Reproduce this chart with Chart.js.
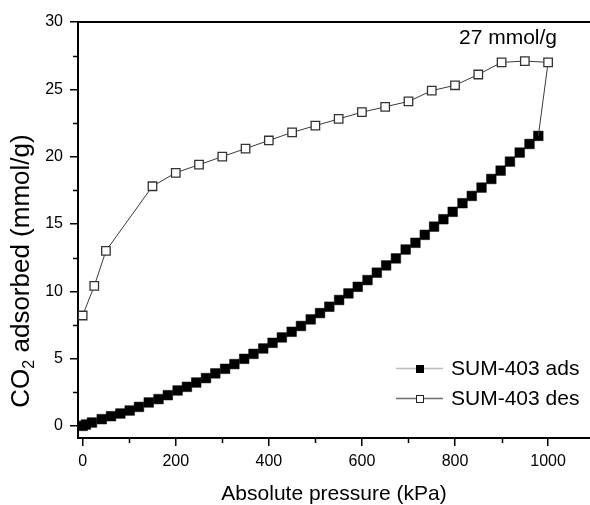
<!DOCTYPE html>
<html>
<head>
<meta charset="utf-8">
<script src="https://cdn.jsdelivr.net/npm/chart.js@4.4.1/dist/chart.umd.min.js"></script>
<style>
  html, body { margin: 0; padding: 0; background: #fff; }
  #wrap { width: 590px; height: 505px; position: relative; }
</style>
</head>
<body>
<div id="wrap"><canvas id="isotherm"></canvas></div>
<script>
// CO2 isotherm, SUM-403 adsorption / desorption
const adsPressure = [0, 7, 20, 41, 61, 81, 101, 121, 142, 163,
    183, 204, 224, 244, 265, 285, 306, 326, 347, 367,
    388, 408, 428, 449, 469, 490, 510, 530, 551, 571,
    591, 612, 632, 652, 673, 694, 715, 735, 755, 775,
    795, 816, 836, 857, 878, 898, 918, 939, 960, 979];
const adsUptake = [0.0, 0.1, 0.25, 0.5, 0.72, 0.92, 1.14, 1.41, 1.74, 1.99,
    2.28, 2.63, 2.9, 3.22, 3.55, 3.9, 4.24, 4.59, 4.98, 5.35,
    5.75, 6.17, 6.57, 6.99, 7.42, 7.91, 8.38, 8.85, 9.35, 9.84,
    10.33, 10.83, 11.38, 11.92, 12.44, 13.1, 13.6, 14.19, 14.8, 15.35,
    15.9, 16.54, 17.08, 17.7, 18.34, 18.96, 19.63, 20.3, 20.94, 21.54];

const desPressure = [1000, 950, 900, 850, 800, 750, 700, 650, 600, 550,
    500, 450, 400, 350, 300, 250, 200, 150, 50, 25, 0];
const desUptake = [27.0, 27.1, 27.0, 26.1, 25.3, 24.9, 24.1, 23.7, 23.3, 22.8,
    22.3, 21.8, 21.2, 20.6, 20.0, 19.4, 18.8, 17.8, 13.0, 10.4, 8.2];

const seriesNames = ['SUM-403 ads', 'SUM-403 des'];
const xMajorTicks = [0, 200, 400, 600, 800, 1000];
const xMinorTicks = [100, 300, 500, 700, 900];
const yMajorTicks = [0, 5, 10, 15, 20, 25, 30];
const yMinorTicks = [2.5, 7.5, 12.5, 17.5, 22.5, 27.5];
const peakNote = '27 mmol/g';

const FONT = "'Liberation Sans', Arial, sans-serif";

const adsPoints = adsPressure.map((p, i) => ({ x: p, y: adsUptake[i] }));
// desorption branch starts where adsorption ends (connecting segment)
const desPoints = [adsPoints[adsPoints.length - 1]]
    .concat(desPressure.map((p, i) => ({ x: p, y: desUptake[i] })));

const extras = {
    id: 'extras',
    afterDraw(chart) {
        const { ctx, chartArea: a, scales: { x, y } } = chart;
        ctx.save();
        // top frame line
        ctx.strokeStyle = '#000';
        ctx.lineWidth = 2;
        ctx.beginPath();
        ctx.moveTo(a.left - 1, a.top);
        ctx.lineTo(chart.width, a.top);
        ctx.stroke();

        // minor ticks
        ctx.lineWidth = 1.5;
        ctx.beginPath();
        xMinorTicks.forEach(v => {
            const px = Math.round(x.getPixelForValue(v)) + 0.5;
            ctx.moveTo(px, a.bottom);
            ctx.lineTo(px, a.bottom + 5);
        });
        yMinorTicks.forEach(v => {
            const py = Math.round(y.getPixelForValue(v)) + 0.5;
            ctx.moveTo(a.left, py);
            ctx.lineTo(a.left - 5, py);
        });
        ctx.stroke();

        // y axis title with subscript
        ctx.fillStyle = '#000';
        ctx.translate(22, 271);
        ctx.rotate(-Math.PI / 2);
        ctx.textBaseline = 'middle';
        const big = '26px ' + FONT, small = '16px ' + FONT;
        ctx.font = big;
        const w1 = ctx.measureText('CO').width;
        const w3 = ctx.measureText(' adsorbed (mmol/g)').width;
        ctx.font = small;
        const w2 = ctx.measureText('2').width;
        let cx = -(w1 + w2 + w3) / 2;
        ctx.font = big;
        ctx.textAlign = 'left';
        ctx.fillText('CO', cx, 0);
        cx += w1;
        ctx.font = small;
        ctx.fillText('2', cx, 8);
        cx += w2;
        ctx.font = big;
        ctx.fillText(' adsorbed (mmol/g)', cx, 0);
        ctx.setTransform(1, 0, 0, 1, 0, 0);

        // annotation
        ctx.font = '21px ' + FONT;
        ctx.textAlign = 'left';
        ctx.textBaseline = 'middle';
        ctx.fillText(peakNote, 459, 38);

        // legend
        const rows = [
            { label: seriesNames[0], line: '#bdbdbd', fill: '#000', stroke: '#000', y: 368 },
            { label: seriesNames[1], line: '#6e6e6e', fill: '#fff', stroke: '#222', y: 398 }
        ];
        rows.forEach(r => {
            ctx.strokeStyle = r.line;
            ctx.lineWidth = 1.5;
            ctx.beginPath();
            ctx.moveTo(396, r.y + 0.5);
            ctx.lineTo(443, r.y + 0.5);
            ctx.stroke();
            ctx.fillStyle = r.fill;
            ctx.strokeStyle = r.stroke;
            ctx.lineWidth = 1;
            ctx.fillRect(416, r.y - 3, 7, 7);
            ctx.strokeRect(416.5, r.y - 2.5, 7, 7);
            ctx.fillStyle = '#000';
            ctx.font = '21px ' + FONT;
            ctx.fillText(r.label, 451, r.y + 1);
        });
        ctx.restore();
    }
};

new Chart(document.getElementById('isotherm'), {
    type: 'scatter',
    data: {
        datasets: [{
            label: seriesNames[1],
            data: desPoints,
            showLine: true,
            borderColor: '#3a3a3a',
            borderWidth: 1,
            pointStyle: 'rect',
            pointRadius: ctx => ctx.dataIndex === 0 ? 0 : 6,
            pointBackgroundColor: '#fff',
            pointBorderColor: '#333',
            pointBorderWidth: 1.3
        }, {
            label: seriesNames[0],
            data: adsPoints,
            showLine: true,
            borderColor: '#bdbdbd',
            borderWidth: 1,
            pointStyle: 'rect',
            pointRadius: 6.8,
            pointBackgroundColor: '#000',
            pointBorderColor: '#000',
            pointBorderWidth: 0.5
        }]
    },
    options: {
        responsive: true,
        maintainAspectRatio: false,
        animation: false,
        layout: { autoPadding: false, padding: { top: 22, right: 0, left: 0, bottom: 0 } },
        plugins: { legend: { display: false }, tooltip: { enabled: false } },
        scales: {
            x: {
                type: 'linear',
                min: -10,
                max: 1090,
                afterBuildTicks: s => { s.ticks = xMajorTicks.map(v => ({ value: v })); },
                afterFit: s => { s.height = 67; s.paddingRight = 0; },
                border: { color: '#000', width: 2 },
                grid: { drawOnChartArea: false, drawTicks: true, tickLength: 8, color: '#000', lineWidth: 1.5 },
                ticks: { color: '#000', padding: 6, maxRotation: 0, callback: v => String(v), font: { family: FONT, size: 16 } },
                title: {
                    display: true,
                    text: 'Absolute pressure (kPa)',
                    color: '#000',
                    padding: { top: 0, bottom: -2 },
                    font: { family: FONT, size: 21 }
                }
            },
            y: {
                type: 'linear',
                min: -0.9,
                max: 30,
                afterBuildTicks: s => { s.ticks = yMajorTicks.map(v => ({ value: v })); },
                afterFit: s => { s.width = 78; },
                border: { color: '#000', width: 2 },
                grid: { drawOnChartArea: false, drawTicks: true, tickLength: 8, color: '#000', lineWidth: 1.5 },
                ticks: { color: '#000', padding: 7, font: { family: FONT, size: 16 } }
            }
        }
    },
    plugins: [extras]
});
</script>
</body>
</html>
